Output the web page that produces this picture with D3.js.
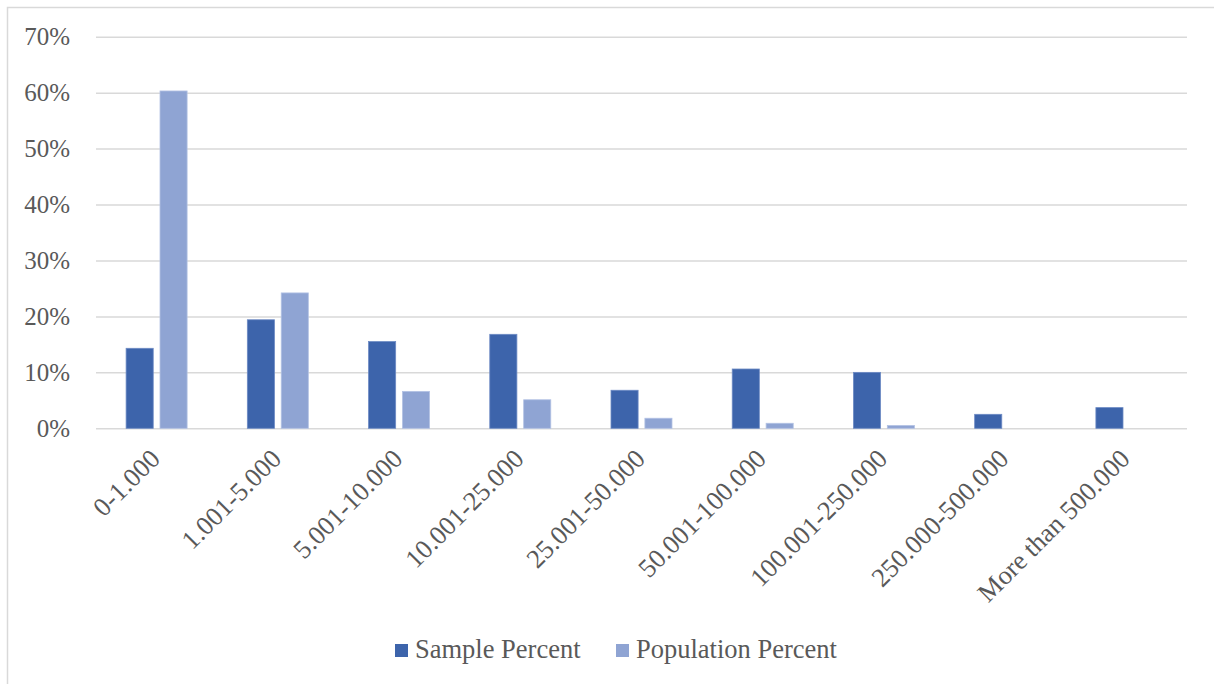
<!DOCTYPE html>
<html>
<head>
<meta charset="utf-8">
<script src="https://cdn.jsdelivr.net/npm/d3@7"></script>
<style>
  html, body { margin: 0; padding: 0; background: #fff; }
  svg { display: block; }
  text { font-family: "Liberation Serif", "Times New Roman", serif; fill: #595959; }
</style>
</head>
<body>
<svg id="chart" width="1214" height="684"></svg>
<script>
// Population size classes
const categories = ["0-1.000", "1.001-5.000", "5.001-10.000", "10.001-25.000", "25.001-50.000",
                    "50.001-100.000", "100.001-250.000", "250.000-500.000", "More than 500.000"];
const seriesNames = ["Sample Percent", "Population Percent"];
const samplePercent     = [0.143, 0.194, 0.155, 0.168, 0.068, 0.106, 0.100, 0.025, 0.037];
const populationPercent = [0.603, 0.242, 0.066, 0.051, 0.018, 0.009, 0.005, 0.000, 0.000];
const yTicks = [0, 0.1, 0.2, 0.3, 0.4, 0.5, 0.6, 0.7];
const colors = ["#3d64ab", "#8fa4d3"];
const strokeColors = ["#6d8ac4", "#b3c2e4"];

const svg = d3.select("#chart");
const W = 1214, H = 684;

// outer chart border
svg.append("rect")
  .attr("x", 7.5).attr("y", 7.5).attr("width", W).attr("height", H)
  .attr("fill", "none").attr("stroke", "#d9d9d9").attr("stroke-width", 1.5);

const plot = { left: 96, right: 1187, top: 36.7, bottom: 428.3 };

const x0 = d3.scaleBand().domain(categories).range([plot.left, plot.right]).padding(0);
const groupW = 61;
const x1 = d3.scaleBand().domain(seriesNames)
  .range([(x0.bandwidth() - groupW) / 2, (x0.bandwidth() + groupW) / 2])
  .paddingInner(0.2).paddingOuter(0);
const y = d3.scaleLinear().domain([0, 0.7]).range([plot.bottom, plot.top]);

// gridlines
const grid = svg.append("g")
  .attr("transform", `translate(${plot.left},0)`)
  .call(d3.axisLeft(y).tickValues(yTicks).tickSize(-(plot.right - plot.left)).tickFormat(""));
grid.select(".domain").remove();
grid.selectAll("line").attr("stroke", "#d9d9d9").attr("stroke-width", 1.5);

// y tick labels
const yAxis = svg.append("g")
  .attr("transform", `translate(70,0)`)
  .call(d3.axisLeft(y).tickValues(yTicks).tickSize(0).tickPadding(0).tickFormat(d3.format(".0%")));
yAxis.select(".domain").remove();
yAxis.selectAll("text")
  .attr("font-size", 25).attr("fill", "#595959")
  .attr("font-family", "Liberation Serif, Times New Roman, serif");

// bars
const rows = categories.map((c, i) => ({ cat: c, values: [samplePercent[i], populationPercent[i]] }));
const groups = svg.append("g").selectAll("g").data(rows).join("g")
  .attr("transform", d => `translate(${x0(d.cat)},0)`);
groups.selectAll("rect")
  .data(d => d.values.map((v, k) => ({ key: seriesNames[k], v, k })).filter(e => e.v > 0))
  .join("rect")
  .attr("x", e => x1(e.key))
  .attr("width", x1.bandwidth())
  .attr("y", e => y(e.v))
  .attr("height", e => y(0) - y(e.v))
  .attr("fill", e => colors[e.k])
  .attr("stroke", e => strokeColors[e.k])
  .attr("stroke-width", 0.8);

// category labels, rotated
const xAxis = svg.append("g")
  .attr("transform", `translate(0,${plot.bottom})`)
  .call(d3.axisBottom(x0).tickSize(0).tickPadding(0));
xAxis.select(".domain").remove();
xAxis.selectAll("text")
  .attr("font-size", 26.5).attr("fill", "#595959")
  .attr("font-family", "Liberation Serif, Times New Roman, serif")
  .attr("text-anchor", "end")
  .attr("dy", null)
  .attr("transform", "translate(5,32) rotate(-45)");

// legend
const legendX = [395, 616];
const legend = svg.append("g");
seriesNames.forEach((name, k) => {
  legend.append("rect")
    .attr("x", legendX[k]).attr("y", 644).attr("width", 13).attr("height", 13)
    .attr("fill", colors[k]);
  legend.append("text")
    .attr("x", legendX[k] + 20).attr("y", 658)
    .attr("font-size", 26.5)
    .text(name);
});
</script>
</body>
</html>
